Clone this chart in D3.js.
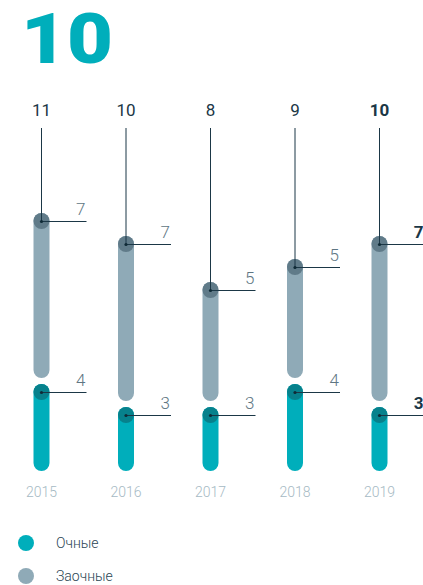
<!DOCTYPE html>
<html>
<head>
<meta charset="utf-8">
<script src="https://cdn.jsdelivr.net/npm/d3@7"></script>
<style>
  body { margin: 0; background: #fff; }
  svg { display: block; font-family: Roboto, "Noto Sans", sans-serif; }
</style>
</head>
<body>
<div id="chart"></div>
<script>
// data
const years = ["2015", "2016", "2017", "2018", "2019"];
const fullTime = [4, 3, 3, 4, 3];   // Очные
const partTime = [7, 7, 5, 5, 7];   // Заочные
const totals = [11, 10, 8, 9, 10];
const legendLabels = ["Очные", "Заочные"];
const headline = "10";

const W = 423, H = 585;
const teal = "#00aebb", tealDark = "#07818c";
const grey = "#8faab7", greyDark = "#607b89";
const navy = "#1b3746";

const svg = d3.select("#chart").append("svg")
    .attr("width", W)
    .attr("height", H);

// big headline number
svg.append("text")
    .attr("x", 21)
    .attr("y", 63)
    .attr("font-size", 70)
    .attr("font-weight", 900)
    .attr("textLength", 92)
    .attr("lengthAdjust", "spacingAndGlyphs")
    .attr("fill", teal)
    .text(headline);

const x = d3.scalePoint()
    .domain(years)
    .range([41, 379]);

// one unit ~ 23px
const y = d3.scaleLinear()
    .domain([0, 1])
    .range([484, 461]);

const gap = 10;
const barW = 16;
const lineTop = 128;
const stemBottom = y(0) - 21;

const data = years.map((yr, i) => ({
    year: yr,
    full: fullTime[i],
    part: partTime[i],
    total: totals[i],
    last: i === years.length - 1
}));

data.forEach(d => {
    d.fullY = y(d.full);
    d.partY = y(d.full + d.part) - gap;
});

const col = svg.selectAll("g.col")
    .data(data)
    .enter().append("g")
    .attr("class", "col")
    .attr("transform", d => `translate(${x(d.year) + 0.5},0)`);

// grey bar
col.append("line")
    .attr("y1", d => d.partY)
    .attr("y2", d => d.fullY - 22)
    .attr("stroke", grey)
    .attr("stroke-width", barW)
    .attr("stroke-linecap", "round");

// teal bar
col.append("line")
    .attr("y1", d => d.fullY)
    .attr("y2", stemBottom)
    .attr("stroke", teal)
    .attr("stroke-width", barW)
    .attr("stroke-linecap", "round");

// dark caps
col.append("circle")
    .attr("cy", d => d.partY)
    .attr("r", 8)
    .attr("fill", greyDark);

col.append("circle")
    .attr("cy", d => d.fullY)
    .attr("r", 8)
    .attr("fill", tealDark);

// vertical total line
col.append("line")
    .attr("y1", lineTop)
    .attr("y2", d => d.partY)
    .attr("stroke", navy)
    .attr("stroke-width", 1);

// horizontal leaders
col.append("line")
    .attr("y1", d => d.partY + 0.5).attr("y2", d => d.partY + 0.5)
    .attr("x1", 0).attr("x2", 45)
    .attr("stroke", navy)
    .attr("stroke-width", 1);

col.append("line")
    .attr("y1", d => d.fullY + 0.5).attr("y2", d => d.fullY + 0.5)
    .attr("x1", 0).attr("x2", 45)
    .attr("stroke", navy)
    .attr("stroke-width", 1);

// center dots
col.append("circle").attr("cy", d => d.partY + 0.5).attr("r", 1.6).attr("fill", "#0f2a36");
col.append("circle").attr("cy", d => d.fullY + 0.5).attr("r", 1.6).attr("fill", "#0f2a36");

// total labels
col.append("text")
    .attr("y", 116)
    .attr("text-anchor", "middle")
    .attr("font-size", 17)
    .attr("font-weight", d => d.last ? 700 : 400)
    .attr("fill", navy)
    .text(d => d.total);

// value labels
col.append("text")
    .attr("x", 44)
    .attr("y", d => d.partY - 6)
    .attr("text-anchor", "end")
    .attr("font-size", 17)
    .attr("font-weight", d => d.last ? 700 : 300)
    .attr("fill", d => d.last ? navy : "#5e7683")
    .text(d => d.part);

col.append("text")
    .attr("x", 44)
    .attr("y", d => d.fullY - 6)
    .attr("text-anchor", "end")
    .attr("font-size", 17)
    .attr("font-weight", d => d.last ? 700 : 300)
    .attr("fill", d => d.last ? navy : "#5e7683")
    .text(d => d.full);

// year labels
col.append("text")
    .attr("y", 497)
    .attr("text-anchor", "middle")
    .attr("font-size", 14)
    .attr("font-weight", 300)
    .attr("fill", "#a6bac4")
    .text(d => d.year);

// legend
const legend = svg.selectAll("g.legend")
    .data(legendLabels)
    .enter().append("g")
    .attr("class", "legend")
    .attr("transform", (d, i) => `translate(26,${543 + i * 33})`);

legend.append("circle")
    .attr("r", 8)
    .attr("fill", (d, i) => i === 0 ? teal : grey);

legend.append("text")
    .attr("x", 30)
    .attr("y", 5)
    .attr("font-size", 14)
    .attr("font-weight", 300)
    .attr("fill", "#2a4554")
    .text(d => d);
</script>
</body>
</html>
